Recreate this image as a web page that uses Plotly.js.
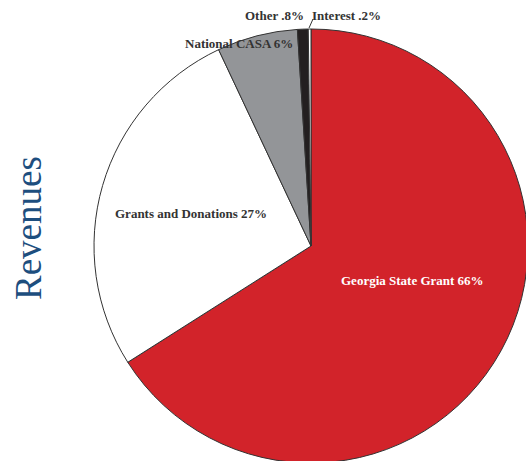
<!DOCTYPE html>
<html>
<head>
<meta charset="utf-8">
<script src="https://cdn.plot.ly/plotly-3.0.1.min.js"></script>
<style>
html,body{margin:0;padding:0;overflow:hidden;background:#fff;width:526px;height:461px;}
#chart{width:540px;height:480px;}
</style>
</head>
<body>
<div id="chart"></div>
<script>
// Data
const categories = ["Georgia State Grant", "Grants and Donations", "National CASA", "Other", "Interest"];
const shares = [66, 27, 6, 0.8, 0.2];
const shareLabels = ["66%", "27%", "6%", ".8%", ".2%"];
const sliceColors = ["#d2232a", "#ffffff", "#939598", "#231f20", "#ffffff"];
const chartTitle = "Revenues";

const W = 540, H = 480;
const px = x => x / W;
const py = y => 1 - y / H;

const trace = {
  type: "pie",
  labels: categories,
  values: shares,
  sort: false,
  direction: "clockwise",
  rotation: 0,
  textinfo: "none",
  hoverinfo: "label+percent",
  marker: {colors: sliceColors, line: {color: "#333333", width: 1}},
  domain: {x: [px(94), px(528)], y: [py(463), py(29)]},
  showlegend: false
};

const labelFont = {family: "Liberation Serif, DejaVu Serif, serif", size: 13, color: "#333333"};
const labelPos = [
  {x: 412, y: 280, color: "#ffffff"},
  {x: 191, y: 213, color: "#333333"},
  {x: 239, y: 43, color: "#333333"},
  {x: 274, y: 15, color: "#333333"},
  {x: 346, y: 15, color: "#333333"}
];
const annotations = categories.map((c, i) => ({
  xref: "paper", yref: "paper",
  x: px(labelPos[i].x), y: py(labelPos[i].y),
  xanchor: "center", yanchor: "middle",
  text: "<b>" + c + " " + shareLabels[i] + "</b>",
  showarrow: false,
  font: Object.assign({}, labelFont, {color: labelPos[i].color})
}));
annotations.push({
  xref: "paper", yref: "paper",
  x: px(28), y: py(228),
  xanchor: "center", yanchor: "middle",
  text: chartTitle,
  textangle: -90,
  showarrow: false,
  font: {family: "Liberation Serif, DejaVu Serif, serif", size: 37, color: "#1d4e7e"}
});

const layout = {
  width: W, height: H,
  margin: {l: 0, r: 0, t: 0, b: 0, pad: 0},
  paper_bgcolor: "#ffffff",
  plot_bgcolor: "#ffffff",
  showlegend: false,
  annotations: annotations,
  shapes: [{
    type: "line", xref: "paper", yref: "paper",
    x0: px(309), y0: py(28), x1: px(313), y1: py(19),
    line: {color: "#333333", width: 1}
  }]
};

Plotly.newPlot("chart", [trace], layout, {staticPlot: true, displayModeBar: false});
</script>
</body>
</html>
